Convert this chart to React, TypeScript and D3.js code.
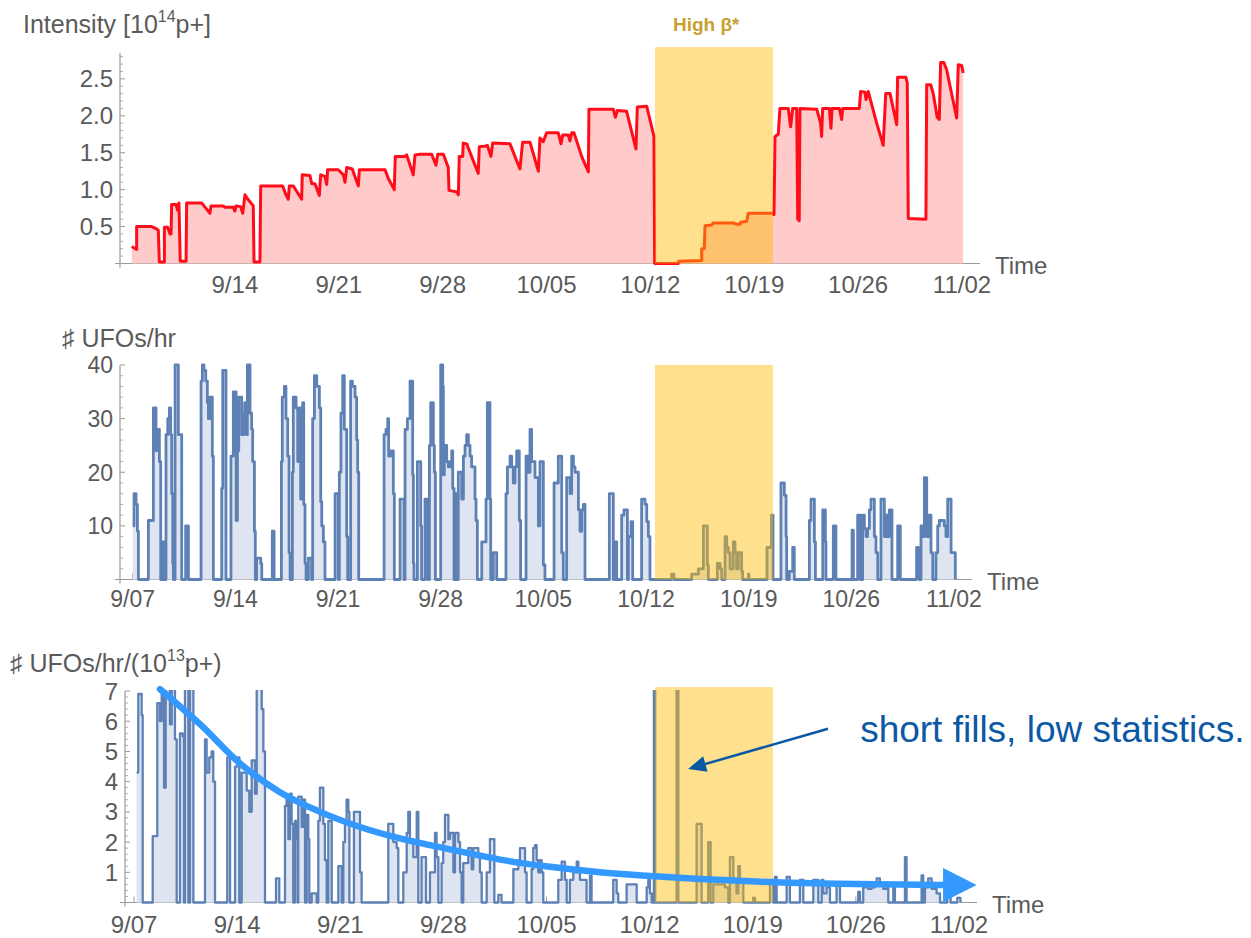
import React from 'react';
import * as d3 from 'd3';

type Pt = [number, number];

// ---------- data ----------
const TICK_DAYS = [0, 7, 14, 21, 28, 35, 42, 49, 56];
const TICK_LABELS = ['9/07', '9/14', '9/21', '9/28', '10/05', '10/12', '10/19', '10/26', '11/02'];
const HIGH_BETA_DAYS: [number, number] = [35.31, 43.26];
const HIGH_BETA_LABEL = 'High β*';

const INTENSITY_TICKS = [0.5, 1.0, 1.5, 2.0, 2.5];
const RATE_TICKS = [10, 20, 30, 40];
const NORM_TICKS = [1, 2, 3, 4, 5, 6, 7];

// Intensity [1e14 p+] vs days since 9/07
const INTENSITY: Pt[] = [
  [0.05,0.23],[0.38,0.19],[0.38,0.5],[1.39,0.5],[1.62,0.48],[1.84,0.45],[1.91,0.02],[2.25,0.02],[2.25,0.49],[2.47,0.49],
  [2.63,0.4],[2.70,0.4],[2.74,0.8],[3.03,0.8],[3.14,0.72],[3.23,0.82],[3.32,0.03],[3.71,0.03],[3.75,0.82],[4.76,0.82],
  [5.32,0.68],[5.39,0.78],[6.22,0.78],[6.33,0.76],[6.89,0.76],[7.0,0.71],[7.08,0.78],[7.39,0.77],[7.53,0.68],[7.68,0.93],
  [7.84,0.88],[8.24,0.78],[8.29,0.02],[8.69,0.02],[8.74,1.05],[10.22,1.05],[10.44,0.93],[10.6,0.87],[10.67,1.05],[10.94,1.05],
  [11.5,0.87],[11.54,1.2],[12.06,1.19],[12.18,1.08],[12.4,1.08],[12.69,0.92],[12.78,1.2],[13.07,1.18],[13.19,1.07],[13.25,1.27],
  [13.97,1.27],[14.31,1.2],[14.42,1.1],[14.54,1.3],[14.91,1.28],[15.32,1.05],[15.39,1.27],[17.12,1.27],[17.34,1.15],[17.74,1.0],
  [17.81,1.45],[18.46,1.45],[18.58,1.47],[19.02,1.2],[19.14,1.47],[19.47,1.48],[20.26,1.48],[20.55,1.33],[20.67,1.48],[21.05,1.48],
  [21.38,1.3],[21.43,0.99],[21.95,0.97],[22.06,0.93],[22.12,1.45],[22.35,1.45],[22.39,1.63],[22.62,1.62],[23.4,1.22],[23.47,1.58],
  [23.92,1.59],[24.01,1.6],[24.26,1.45],[24.37,1.63],[25.54,1.62],[26.21,1.28],[26.39,1.64],[26.89,1.64],[27.45,1.25],[27.56,1.7],
  [27.78,1.65],[28.01,1.77],[28.79,1.77],[28.98,1.62],[29.09,1.74],[29.47,1.74],[29.58,1.66],[29.7,1.77],[29.85,1.77],[30.37,1.45],
  [30.82,1.24],[30.86,2.09],[32.5,2.09],[32.64,1.98],[32.77,2.07],[33.4,2.06],[34.03,1.55],[34.12,2.12],[34.75,2.13],[35.24,1.72],
  [35.29,0],[36.88,0],[36.9,0.03],[38.46,0.04],[38.46,0.2],[38.63,0.2],[38.68,0.51],[39.13,0.52],[39.24,0.55],[40.59,0.55],
  [40.82,0.53],[41.04,0.53],[41.08,0.56],[41.49,0.57],[41.6,0.68],[43.24,0.68],[43.33,0.66],[43.4,1.72],[43.62,1.75],[43.73,2.1],
  [44.29,2.1],[44.45,1.85],[44.59,2.1],[44.86,2.1],[44.93,0.6],[45.03,0.58],[45.08,2.1],[46.21,2.09],[46.47,1.9],[46.54,1.72],
  [46.61,2.1],[47.06,2.1],[47.17,1.83],[47.24,2.1],[47.73,2.1],[47.89,1.95],[47.96,2.1],[49.08,2.1],[49.17,2.33],[49.46,2.32],
  [49.53,2.22],[49.68,2.33],[50.25,1.9],[50.69,1.6],[50.86,2.3],[51.15,2.3],[51.6,1.88],[51.66,2.52],[52.22,2.52],[52.31,2.45],
  [52.38,0.61],[53.57,0.6],[53.62,2.42],[53.89,2.42],[54.06,2.3],[54.33,1.98],[54.47,1.95],[54.56,2.72],[54.78,2.72],[54.97,2.62],
  [55.64,1.97],[55.75,2.69],[55.98,2.68],[56.08,2.58],
];

// # UFOs / hr
const UFO_RATE: Pt[] = [
  [0.00,10],[0.09,16],[0.23,14],[0.32,9],[0.39,0],[1.07,11],[1.41,32],[1.59,24],[1.64,28],[1.82,22],[1.91,0],[2.02,7],[2.16,0],
  [2.27,27],[2.39,30],[2.50,32],[2.59,27],[2.66,16],[2.73,3],[2.77,0],[2.89,40],[3.11,27],[3.34,0],[3.61,10],[3.80,0],
  [4.66,37],[4.75,40],[4.86,39],[4.98,37],[5.09,33],[5.16,30],[5.27,34],[5.43,23],[5.50,0],[6.07,17],[6.14,39],[6.36,0],
  [6.70,23],[6.86,35],[7.05,11],[7.14,24],[7.23,34],[7.43,27],[7.55,31],[7.64,33],[7.73,27],[7.82,40],[8.00,31],[8.11,28],
  [8.18,22],[8.30,9],[8.36,0],[8.45,4],[8.73,3],[8.80,0],[9.52,9],[9.64,0],[10.14,22],[10.20,34],[10.34,36],[10.45,30],
  [10.57,23],[10.66,5],[10.73,0],[10.89,20],[10.95,34],[11.14,32],[11.25,22],[11.36,32],[11.45,15],[11.59,33],[11.66,14],
  [11.75,3],[11.82,0],[11.98,4],[12.20,0],[12.27,30],[12.39,38],[12.55,36],[12.73,32],[12.82,14.5],[12.89,10],[13.00,7],
  [13.11,0],[13.80,16],[14.02,0],[14.09,20],[14.20,31],[14.32,38],[14.43,28],[14.59,8],[14.66,0],[14.86,37],[14.98,36],
  [15.16,34],[15.27,26],[15.34,20],[15.41,0],[17.14,27],[17.27,28],[17.39,30],[17.45,23],[17.59,24],[17.77,16],[17.84,0],
  [18.23,15],[18.50,0],[18.57,28],[18.73,30],[18.91,37],[19.09,19.5],[19.14,3],[19.18,0],[19.41,22],[19.64,10],[19.70,0],
  [19.93,15],[20.11,0],[20.23,25],[20.32,33],[20.50,25],[20.57,20],[20.64,0],[21.00,40],[21.14,36],[21.18,19.5],[21.25,22],
  [21.32,25],[21.41,22],[21.52,21],[21.64,22],[21.75,24],[21.82,17],[21.91,0],[21.98,16],[22.05,0],[22.20,20],[22.43,15],
  [22.55,23],[22.66,25],[22.77,27],[22.89,25],[23.00,23],[23.11,21],[23.34,15],[23.41,11],[23.50,0],[23.80,7],[24.09,15],
  [24.18,33],[24.36,15],[24.41,0],[24.59,5],[24.82,0],[25.45,16],[25.55,21],[25.73,23],[25.84,21],[25.95,18],[26.07,21],
  [26.18,24],[26.36,11],[26.45,0],[26.82,23],[26.98,20],[27.09,28],[27.20,22],[27.43,19],[27.66,10],[27.77,22],[28.00,2.7],
  [28.11,0],[28.73,18],[29.02,23],[29.25,5],[29.36,0],[29.59,19],[29.82,16],[29.93,23],[30.05,21],[30.16,20],[30.39,13],
  [30.50,9],[30.61,13],[30.73,14],[30.84,0],[32.50,16],[32.77,0],[32.89,7],[33.00,0],[33.34,12],[33.50,13],[33.73,0],
  [33.80,8],[33.98,10.8],[34.09,0],[34.70,15],[34.93,14],[35.05,10.8],[35.16,8],[35.27,0],[36.75,1],[36.91,0],[38.11,1],
  [38.57,2],[38.91,10],[39.18,2.7],[39.25,0],[39.86,3],[40.05,2],[40.16,0],[40.39,8],[40.50,6],[40.61,5],[40.73,2],
  [40.95,7],[41.07,5],[41.18,2],[41.30,5],[41.52,1.5],[41.59,0],[41.98,1],[42.02,0],[43.25,6],[43.55,12],[43.66,0],
  [44.20,18],[44.43,15.7],[44.55,8],[44.59,0],[44.77,1.5],[45.00,6],[45.11,0],[46.14,11],[46.25,15],[46.48,7],[46.55,0],
  [47.05,13],[47.23,7],[47.27,0],[47.77,10],[47.95,0],[49.05,9.2],[49.14,0],[49.43,12],[49.61,0],[49.77,12],[49.89,9.5],
  [50.00,8],[50.11,9.5],[50.23,13],[50.34,15],[50.57,8],[50.68,5],[50.80,0],[51.02,15],[51.25,8],[51.36,12],[51.48,8],
  [51.59,13],[51.77,0],[52.16,10],[52.34,0],[53.45,6],[53.57,5],[53.64,0],[53.75,10],[53.86,8],[53.98,19],[54.14,8],
  [54.27,12],[54.43,5],[54.55,0],[54.77,5],[54.89,10],[55.00,11],[55.34,10],[55.45,8],[55.57,15],[55.80,5],[56.09,0],
];

// # UFOs / hr / (1e13 p+)
const UFO_NORM: Pt[] = [
  [0.18,4.3],[0.29,6.9],[0.52,6.2],[0.59,0],[1.27,2.2],[1.58,6.6],[1.76,6.0],[1.88,7.5],[2.04,3.8],[2.15,7.5],[2.44,5.9],
  [2.56,7.5],[2.78,5.4],[2.90,0],[3.12,5.6],[3.30,5.5],[3.39,0],[3.46,7.5],[3.69,0],[3.80,7.5],[4.03,0],[4.82,5.4],
  [4.93,4.3],[5.11,4.8],[5.27,5.0],[5.38,4.0],[5.50,0],[6.33,4.8],[6.52,0],[6.86,4.5],[7.01,4.8],[7.15,0],[7.31,4.3],
  [7.65,3.7],[7.83,3.0],[7.99,4.7],[8.21,3.6],[8.33,7.5],[8.67,6.4],[8.78,5.0],[8.89,0],[9.64,0.8],[9.86,0],[10.25,3.2],
  [10.36,3.5],[10.48,2.1],[10.59,3.6],[10.70,2.6],[10.81,0],[10.93,2.7],[11.04,2.1],[11.11,0],[11.15,3.5],[11.38,2.5],
  [11.49,3.4],[11.61,0],[11.72,2.9],[11.83,2.1],[11.90,0],[12.06,0.3],[12.40,0],[12.51,2.7],[12.62,3.8],[12.85,2.6],
  [12.96,1.4],[13.08,0],[13.19,2.7],[13.42,0],[13.87,1.2],[14.10,0],[14.21,2.0],[14.32,2.6],[14.43,3.4],[14.55,3.0],
  [14.62,0],[14.93,3.0],[15.23,3.0],[15.34,1.0],[15.45,0],[17.26,2.6],[17.60,2.0],[17.83,1.8],[17.94,0],[18.28,1.0],
  [18.51,2.3],[18.62,3.0],[18.73,2.1],[18.96,1.5],[19.19,3.0],[19.30,0],[19.52,1.5],[19.82,0],[20.09,1.0],[20.43,2.3],
  [20.54,1.5],[20.66,0],[20.88,1.3],[20.99,2.0],[21.11,2.9],[21.34,2.1],[21.45,2.3],[21.68,1.0],[21.79,2.3],[22.02,2.0],
  [22.13,1.0],[22.24,0],[22.35,1.3],[22.69,1.8],[22.92,1.1],[23.03,1.8],[23.37,1.5],[23.48,1.0],[23.60,0],[23.94,1.0],
  [24.16,2.1],[24.46,0],[24.73,0.25],[24.95,0],[25.75,1.1],[26.09,1.4],[26.20,1.8],[26.54,1.0],[26.65,0],[26.99,1.1],
  [27.10,1.8],[27.22,1.9],[27.33,1.4],[27.44,1.0],[27.56,1.4],[27.67,1.0],[27.78,0],[28.80,0.75],[29.03,1.35],[29.25,0.75],
  [29.37,0],[29.59,0.75],[29.82,1.0],[30.05,1.35],[30.16,1.0],[30.27,0.75],[30.72,0],[30.95,0.9],[31.06,0],[32.53,0.75],
  [32.76,0.3],[32.87,0],[33.44,0.6],[34.12,0],[34.80,0.5],[34.91,0.75],[35.02,0.3],[35.14,0],[35.29,7.5],[35.38,0],
  [36.83,7.5],[36.95,0],[38.19,2.6],[38.53,0],[38.98,2.0],[39.14,0],[39.32,0.6],[39.89,0.6],[40.11,0.5],[40.34,0],
  [40.45,1.5],[40.68,0.75],[40.90,0.3],[41.02,1.2],[41.13,0.75],[41.36,0],[42.04,0.15],[42.15,0],[43.17,0.75],[43.39,0],
  [43.51,0.85],[43.62,0],[44.30,0.85],[44.52,0],[45.20,0.75],[45.43,0],[46.11,0.75],[46.45,0],[46.68,0.75],[46.79,0.3],
  [47.01,0.5],[47.24,0],[47.69,0.6],[47.92,0],[49.16,0.35],[49.28,0],[49.50,0.5],[49.73,0.6],[49.84,0.45],[50.07,0.5],
  [50.29,0.6],[50.41,0.8],[50.63,0.6],[50.86,0.45],[51.09,0.5],[51.20,0],[51.54,0.5],[51.65,0],[52.33,1.5],[52.44,0],
  [53.46,0.9],[53.57,0],[53.69,0.5],[53.91,0.8],[54.14,0.45],[54.48,0.3],[54.71,0],[55.20,0.3],[55.43,0],[55.88,0.15],
  [56.10,0],
];

// hand-drawn decreasing trend arrow (days, value)
const TREND: Pt[] = [
  [1.77,7.06],[4.48,5.9],[7.2,4.6],[9.91,3.65],[12.63,3.0],[15.34,2.5],[18.06,2.12],[21.45,1.76],[24.85,1.42],
  [28.24,1.18],[31.64,1.0],[35.03,0.88],[38.43,0.78],[41.82,0.7],[46.57,0.63],[50.5,0.6],[54.92,0.58],
];
const TREND_TIP: Pt = [57.2, 0.58];

const ANNOTATION_TEXT = 'short fills, low statistics.';
const ANNOTATION_TAIL: Pt = [47.11, 5.75];
const ANNOTATION_TIP: Pt = [37.61, 4.42];
const ANNOTATION_TEXT_AT: Pt = [49.29, 5.31];

// ---------- styles ----------
const FONT = '"Liberation Sans", Arial, Helvetica, sans-serif';
const TEXT = '#5a5a5a';
const AXIS = '#9a9a9a';
const BAND = 'rgb(255,186,0)';
const BAND_OPACITY = 0.45;

interface PanelCfg {
  id: string;
  axisX: number;
  axisStart: number;
  axisEnd: number;
  x0: number;
  x56: number;
  y0: number;
  yTop: number;
  yMax: number;
  yTicks: number[];
  minorStep: number;
  fmt: (v: number) => string;
  labelY: number;
  showFirst: boolean;
  bandTop: number;
  fontSize: number;
  clipTop: number;
}

const fmt1 = d3.format('.1f');
const fmt0 = d3.format('d');

const TOP: PanelCfg = {
  id: 'top', axisX: 120, axisStart: 115, axisEnd: 980, x0: 131, x56: 962, y0: 263.5, yTop: 53,
  yMax: 2.85, yTicks: INTENSITY_TICKS, minorStep: 0.1, fmt: fmt1, labelY: 293, showFirst: false,
  bandTop: 2.93, fontSize: 24, clipTop: 40,
};
const MID: PanelCfg = {
  id: 'mid', axisX: 120, axisStart: 115, axisEnd: 972, x0: 132.7, x56: 954, y0: 579.5, yTop: 365,
  yMax: 40, yTicks: RATE_TICKS, minorStep: 2, fmt: fmt0, labelY: 607, showFirst: true,
  bandTop: 40, fontSize: 23, clipTop: 362,
};
const BOT: PanelCfg = {
  id: 'bot', axisX: 125, axisStart: 120, axisEnd: 977, x0: 134, x56: 959, y0: 902.5, yTop: 691,
  yMax: 7, yTicks: NORM_TICKS, minorStep: 0.2, fmt: fmt0, labelY: 933, showFirst: true,
  bandTop: 7.13, fontSize: 24, clipTop: 690,
};

// the shaded band is one slide overlay across the three plots: use the top plot's time scale
const bandScale = d3.scaleLinear().domain([0, 56]).range([TOP.x0, TOP.x56]);

type Scales = { xs: d3.ScaleLinear<number, number>; ys: d3.ScaleLinear<number, number> };

function Panel(props: {
  cfg: PanelCfg;
  data: Pt[];
  curve: d3.CurveFactory;
  stroke: string;
  fill: string;
  width: number;
  extra?: (s: Scales) => React.ReactNode;
}) {
  const { cfg, data, curve, stroke, fill, width } = props;
  const xs = d3.scaleLinear().domain([0, 56]).range([cfg.x0, cfg.x56]);
  const ys = d3.scaleLinear().domain([0, cfg.yMax]).range([cfg.y0, cfg.yTop]);
  const area = d3.area<Pt>().x(d => xs(d[0])).y0(ys(0)).y1(d => ys(d[1])).curve(curve);
  const line = d3.line<Pt>().x(d => xs(d[0])).y(d => ys(d[1])).curve(curve);
  const minors = d3.range(cfg.minorStep, cfg.yMax + 1e-9, cfg.minorStep)
    .filter(v => !cfg.yTicks.some(t => Math.abs(t - v) < 1e-6));
  const clipId = `clip-${cfg.id}`;
  const bx0 = bandScale(HIGH_BETA_DAYS[0]);
  const bx1 = bandScale(HIGH_BETA_DAYS[1]);
  return (
    <g>
      <defs>
        <clipPath id={clipId}>
          <rect x={cfg.axisX} y={cfg.clipTop} width={cfg.axisEnd - cfg.axisX} height={cfg.y0 + 4 - cfg.clipTop} />
        </clipPath>
      </defs>
      {/* axes */}
      <line x1={cfg.axisStart} x2={cfg.axisEnd} y1={cfg.y0} y2={cfg.y0} stroke={AXIS} strokeWidth={1.2} />
      <line x1={cfg.axisX} x2={cfg.axisX} y1={cfg.y0 + 4} y2={cfg.yTop} stroke={AXIS} strokeWidth={1.2} />
      {cfg.yTicks.map(t => (
        <g key={`yt${t}`}>
          <line x1={cfg.axisX} x2={cfg.axisX + 5} y1={ys(t)} y2={ys(t)} stroke={AXIS} strokeWidth={1} />
          <text x={cfg.axisX - 7} y={ys(t)} dy="0.36em" textAnchor="end" fontSize={cfg.fontSize} fill={TEXT}>
            {cfg.fmt(t)}
          </text>
        </g>
      ))}
      {minors.map(t => (
        <line key={`ym${t}`} x1={cfg.axisX} x2={cfg.axisX + 3} y1={ys(t)} y2={ys(t)} stroke={AXIS} strokeWidth={0.8} />
      ))}
      {TICK_DAYS.map((d, i) => (cfg.showFirst || i > 0) ? (
        <g key={`xt${d}`}>
          <line x1={xs(d)} x2={xs(d)} y1={cfg.y0} y2={cfg.y0 - 6} stroke={AXIS} strokeWidth={1} />
          <text x={xs(d)} y={cfg.labelY} textAnchor="middle" fontSize={cfg.fontSize} fill={TEXT}>
            {TICK_LABELS[i]}
          </text>
        </g>
      ) : null)}
      <text x={cfg.axisEnd + 15} y={cfg.y0 + 10} fontSize={24} fill={TEXT}>Time</text>
      {/* data */}
      <g clipPath={`url(#${clipId})`}>
        <path d={area(data) || ''} fill={fill} stroke="none" />
        <path d={line(data) || ''} fill="none" stroke={stroke} strokeWidth={width} strokeLinejoin="round" />
      </g>
      {/* high beta band */}
      <rect x={bx0} y={ys(cfg.bandTop)} width={bx1 - bx0} height={cfg.y0 - ys(cfg.bandTop)}
        fill={BAND} fillOpacity={BAND_OPACITY} />
      {props.extra ? props.extra({ xs, ys }) : null}
    </g>
  );
}

function arrowHead(tip: [number, number], from: [number, number], len: number, half: number) {
  const dx = tip[0] - from[0];
  const dy = tip[1] - from[1];
  const L = Math.hypot(dx, dy);
  const ux = dx / L, uy = dy / L;
  const nx = -uy, ny = ux;
  const bx = tip[0] - ux * len, by = tip[1] - uy * len;
  return `M${tip[0]},${tip[1]}L${bx + nx * half},${by + ny * half}L${bx - nx * half},${by - ny * half}Z`;
}

export default function App() {
  const labelX = bandScale(HIGH_BETA_DAYS[0]) + 18;

  const bottomExtra = ({ xs, ys }: Scales) => {
    const trendLine = d3.line<Pt>().x(d => xs(d[0])).y(d => ys(d[1])).curve(d3.curveMonotoneX);
    const tipX = xs(TREND_TIP[0]);
    const tipY = ys(TREND_TIP[1]);
    const last = TREND[TREND.length - 1];
    const baseX = xs(last[0]);
    const tail: [number, number] = [xs(ANNOTATION_TAIL[0]), ys(ANNOTATION_TAIL[1])];
    const tip: [number, number] = [xs(ANNOTATION_TIP[0]), ys(ANNOTATION_TIP[1])];
    const L = Math.hypot(tip[0] - tail[0], tip[1] - tail[1]);
    const ux = (tip[0] - tail[0]) / L;
    const uy = (tip[1] - tail[1]) / L;
    return (
      <g>
        <path d={trendLine(TREND) || ''} fill="none" stroke="#3399ff" strokeWidth={6.5} strokeLinecap="round" />
        <path d={`M${tipX},${tipY}L${baseX},${tipY - 17}L${baseX},${tipY + 17}Z`} fill="#3399ff" />
        <line x1={tail[0]} y1={tail[1]} x2={tip[0] - ux * 12} y2={tip[1] - uy * 12} stroke="#0b58a4" strokeWidth={2.5} />
        <path d={arrowHead(tip, tail, 18, 8)} fill="#0b58a4" />
        <text x={xs(ANNOTATION_TEXT_AT[0])} y={ys(ANNOTATION_TEXT_AT[1])} fontSize={37} fill="#0b58a4">
          {ANNOTATION_TEXT}
        </text>
      </g>
    );
  };

  return (
    <svg width={1251} height={938} viewBox="0 0 1251 938"
      style={{ position: 'absolute', left: 0, top: 0, background: '#fff', fontFamily: FONT }}>
      <rect x={0} y={0} width={1251} height={938} fill="#fff" />
      {/* titles */}
      <text x={23} y={33} fontSize={25} fill={TEXT}>
        Intensity [10<tspan dy={-11} fontSize={16}>14</tspan><tspan dy={11}>p+]</tspan>
      </text>
      <text x={62} y={347} fontSize={25} fill={TEXT}>♯ UFOs/hr</text>
      <text x={10} y={672} fontSize={25} fill={TEXT}>
        ♯ UFOs/hr/(10<tspan dy={-11} fontSize={16}>13</tspan><tspan dy={11}>p+)</tspan>
      </text>
      <text x={labelX} y={31} fontSize={19} fontWeight="bold" fill="#c9a032">{HIGH_BETA_LABEL}</text>

      <Panel cfg={TOP} data={INTENSITY} curve={d3.curveLinear} stroke="#ff0d1a" fill="#ffcaca" width={3} />
      <Panel cfg={MID} data={UFO_RATE} curve={d3.curveStepAfter} stroke="#5e81b5" fill="#dfe5f0" width={2.8} />
      <Panel cfg={BOT} data={UFO_NORM} curve={d3.curveStepAfter} stroke="#5e81b5" fill="#dfe5f0" width={2.3} extra={bottomExtra} />
    </svg>
  );
}
